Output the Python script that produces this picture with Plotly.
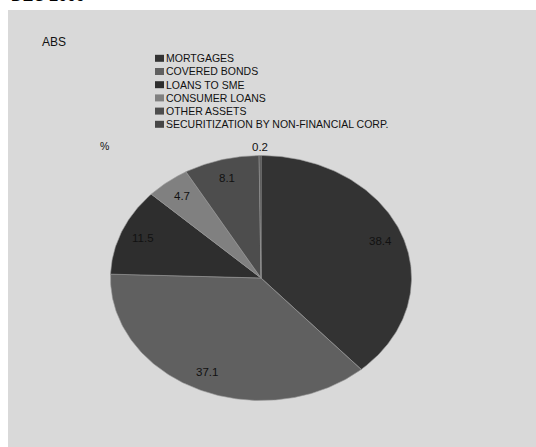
import numpy as np
import plotly.graph_objects as go

categories = ["MORTGAGES", "COVERED BONDS", "LOANS TO SME", "CONSUMER LOANS",
              "OTHER ASSETS", "SECURITIZATION BY NON-FINANCIAL CORP."]
values = [38.4, 37.1, 11.5, 4.7, 8.1, 0.2]
colors = ["#333333", "#606060", "#2e2e2e", "#808080", "#4d4d4d", "#464646"]
title_text = "DEC 2009"
chart_label = "ABS"
unit_label = "%"

W, H = 536, 447
CX, CY = 261.0, 278.0      # pixel centre of pie
RX, RY = 150.5, 122.5      # pixel radii of ellipse

x_range = [-CX / RX, (W - CX) / RX]
y_range = [(CY - H) / RY, CY / RY]

FONT = "Liberation Sans, Arial"


def px(x):
    return x / W


def py(y):
    return 1 - y / H


fig = go.Figure()

total = sum(values)
cum = 0.0
for name, v, c in zip(categories, values, colors):
    a0 = cum / total * 2 * np.pi
    a1 = (cum + v) / total * 2 * np.pi
    n = max(3, int(np.ceil((a1 - a0) / (2 * np.pi) * 400)))
    th = np.linspace(a0, a1, n)
    xs = np.concatenate([[0], np.sin(th), [0]])
    ys = np.concatenate([[0], np.cos(th), [0]])
    fig.add_trace(go.Scatter(x=xs, y=ys, mode="lines", fill="toself",
                             fillcolor=c, line=dict(color="#9a9a9a", width=0.6),
                             name=name, showlegend=False, hoverinfo="name"))
    mid = (a0 + a1) / 2
    r = 0.85 if v > 1 else 1.07
    fig.add_annotation(x=r * np.sin(mid), y=r * np.cos(mid), xref="x", yref="y",
                       text=f"{v:.1f}", showarrow=False,
                       font=dict(family=FONT, size=11.5, color="#111111"))
    cum += v

shapes = [dict(type="rect", xref="paper", yref="paper", x0=px(8), x1=1,
               y0=0, y1=py(10), fillcolor="#d9d9d9", line=dict(width=0),
               layer="below")]

annotations = []
leg_x0 = 155
leg_y0 = 58.3
leg_dy = 13.2
for i, (name, c) in enumerate(zip(categories, colors)):
    yc = leg_y0 + i * leg_dy
    shapes.append(dict(type="rect", xref="paper", yref="paper",
                       x0=px(leg_x0), x1=px(leg_x0 + 9),
                       y0=py(yc + 3.5), y1=py(yc - 3.5),
                       fillcolor=c, line=dict(width=0)))
    annotations.append(dict(x=px(leg_x0 + 9), y=py(yc), xref="paper", yref="paper",
                            xanchor="left", yanchor="middle", text=name, showarrow=False,
                            font=dict(family=FONT, size=10.5, color="#111111")))

annotations.append(dict(x=px(40), y=py(42), xref="paper", yref="paper",
                        xanchor="left", yanchor="middle", text=chart_label, showarrow=False,
                        font=dict(family=FONT, size=12, color="#111111")))
annotations.append(dict(x=px(104), y=py(146), xref="paper", yref="paper",
                        xanchor="center", yanchor="middle", text=unit_label, showarrow=False,
                        font=dict(family=FONT, size=10.5, color="#111111")))
annotations.append(dict(x=px(9), y=py(6), xref="paper", yref="paper",
                        xanchor="left", yanchor="bottom", text=f"<b>{title_text}</b>",
                        showarrow=False,
                        font=dict(family=FONT, size=16, color="#000000")))

for a in annotations:
    fig.add_annotation(**a)

fig.update_layout(
    width=W, height=H, autosize=False,
    margin=dict(l=0, r=0, t=0, b=0, pad=0),
    paper_bgcolor="#ffffff", plot_bgcolor="rgba(0,0,0,0)",
    shapes=shapes,
    xaxis=dict(range=x_range, visible=False, fixedrange=True),
    yaxis=dict(range=y_range, visible=False, fixedrange=True),
    showlegend=False,
)

fig.write_html("out.html", config={"displayModeBar": False},
               post_script="document.body.style.margin='0';document.body.style.overflow='hidden';")
